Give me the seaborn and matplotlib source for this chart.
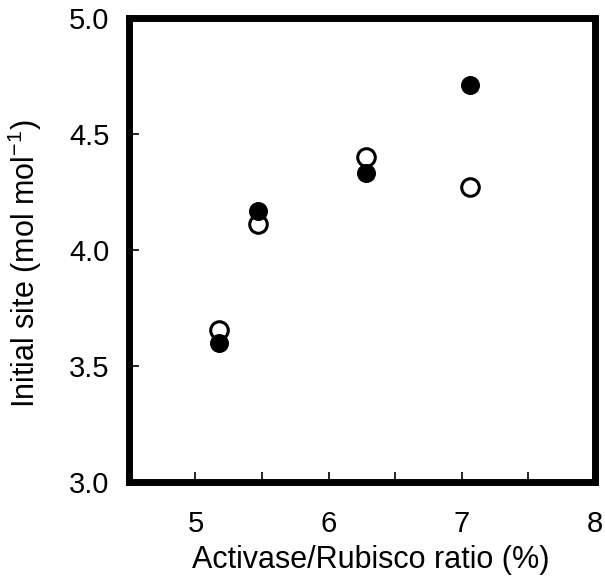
import matplotlib
matplotlib.use("Agg")
import matplotlib.pyplot as plt
import seaborn as sns
import pandas as pd
from matplotlib.ticker import FixedLocator

ratio = [5.18, 5.47, 6.28, 7.06]
filled_vals = [3.60, 4.17, 4.33, 4.71]
open_vals = [3.655, 4.11, 4.40, 4.27]
xticks = [5, 6, 7, 8]
yticks = [3.0, 3.5, 4.0, 4.5, 5.0]

sns.set_style("ticks")
plt.rcParams['font.family'] = ['Liberation Sans', 'DejaVu Sans']
plt.rcParams['mathtext.fontset'] = 'custom'
plt.rcParams['mathtext.rm'] = 'Liberation Sans'
plt.rcParams['text.color'] = 'black'
plt.rcParams['axes.labelcolor'] = 'black'
plt.rcParams['xtick.color'] = 'black'
plt.rcParams['ytick.color'] = 'black'

df_open = pd.DataFrame({"x": ratio, "y": open_vals})
df_fill = pd.DataFrame({"x": ratio, "y": filled_vals})

fig = plt.figure(figsize=(6.05, 5.76), dpi=100)
ax = fig.add_axes([0.213, 0.163, 0.77, 0.806])

sns.scatterplot(data=df_open, x="x", y="y", ax=ax, s=160, marker="o",
                facecolor="white", edgecolor="black", linewidth=2.2, zorder=3)
sns.scatterplot(data=df_fill, x="x", y="y", ax=ax, s=160, marker="o",
                color="black", edgecolor="black", linewidth=1.0, zorder=4)

ax.set_xlim(4.5, 8)
ax.set_ylim(3.0, 5.0)
ax.xaxis.set_major_locator(FixedLocator(xticks))
ax.xaxis.set_minor_locator(FixedLocator([5.5, 6.5, 7.5]))
ax.yaxis.set_major_locator(FixedLocator(yticks))
ax.set_xticklabels([str(v) for v in xticks])
ax.set_yticklabels([f"{v:.1f}" for v in yticks])

for s in ax.spines.values():
    s.set_linewidth(5)
    s.set_color("black")

ax.tick_params(axis="both", which="both", direction="in", length=7, width=1.2,
               labelsize=21, colors="black")
ax.tick_params(axis="x", which="major", pad=20)
ax.tick_params(axis="y", which="major", pad=14)

ax.set_xlabel("Activase/Rubisco ratio (%)", fontsize=22, labelpad=5)
ax.set_ylabel(r"Initial site (mol mol$^{\mathregular{-1}}$)", fontsize=22, labelpad=18)
ax.xaxis.label.set_x(0.52)
ax.yaxis.label.set_y(0.47)

fig.savefig("out.png", dpi=100, facecolor="white")
